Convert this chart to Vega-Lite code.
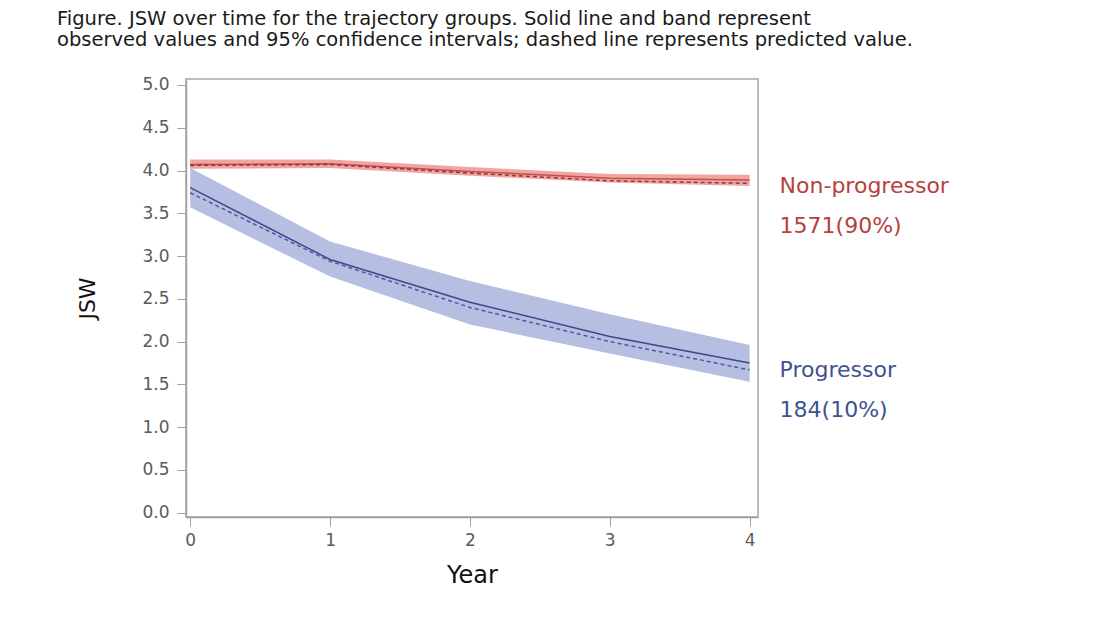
{
  "$schema": "https://vega.github.io/schema/vega-lite/v6.json",
  "autosize": "none",
  "width": 572,
  "height": 438,
  "padding": {"left": 186, "top": 79, "right": 336, "bottom": 106},
  "background": "white",
  "title": {
    "text": ["Figure. JSW over time for the trajectory groups. Solid line and band represent", "observed values and 95% confidence intervals; dashed line represents predicted value."],
    "anchor": "start",
    "frame": "group",
    "dx": -129,
    "offset": 25,
    "font": "DejaVu Sans",
    "fontSize": 19.5,
    "fontWeight": "normal",
    "color": "#1a1a1a",
    "lineHeight": 21
  },
  "datasets": {
    "traj": [
      {"group": "Non-progressor", "year": 0, "obs": 4.07, "lo": 4.02, "hi": 4.13, "pred": 4.06},
      {"group": "Non-progressor", "year": 1, "obs": 4.08, "lo": 4.03, "hi": 4.13, "pred": 4.07},
      {"group": "Non-progressor", "year": 2, "obs": 3.99, "lo": 3.94, "hi": 4.04, "pred": 3.97},
      {"group": "Non-progressor", "year": 3, "obs": 3.91, "lo": 3.86, "hi": 3.96, "pred": 3.88},
      {"group": "Non-progressor", "year": 4, "obs": 3.89, "lo": 3.82, "hi": 3.95, "pred": 3.85},
      {"group": "Progressor", "year": 0, "obs": 3.80, "lo": 3.57, "hi": 4.03, "pred": 3.74},
      {"group": "Progressor", "year": 1, "obs": 2.96, "lo": 2.76, "hi": 3.17, "pred": 2.94},
      {"group": "Progressor", "year": 2, "obs": 2.46, "lo": 2.20, "hi": 2.71, "pred": 2.40},
      {"group": "Progressor", "year": 3, "obs": 2.06, "lo": 1.86, "hi": 2.32, "pred": 2.00},
      {"group": "Progressor", "year": 4, "obs": 1.75, "lo": 1.53, "hi": 1.96, "pred": 1.67}
    ],
    "labels": [
      {"group": "Non-progressor", "label": "Non-progressor", "year": 4, "jsw": 3.82},
      {"group": "Non-progressor", "label": "1571(90%)", "year": 4, "jsw": 3.35},
      {"group": "Progressor", "label": "Progressor", "year": 4, "jsw": 1.67},
      {"group": "Progressor", "label": "184(10%)", "year": 4, "jsw": 1.20}
    ]
  },
  "config": {
    "view": {"stroke": "#a8a8a8", "strokeWidth": 1.5},
    "axis": {
      "grid": false,
      "domainColor": "#a0a0a0",
      "domainWidth": 1.5,
      "tickColor": "#a0a0a0",
      "tickSize": 9,
      "labelFont": "DejaVu Sans",
      "labelFontSize": 17,
      "labelColor": "#5a5a5a",
      "titleFont": "DejaVu Sans",
      "titleFontWeight": "normal",
      "titleColor": "#111111"
    }
  },
  "encoding": {
    "x": {
      "field": "year",
      "type": "quantitative",
      "scale": {"domain": [-0.03, 4.06], "nice": false, "zero": false},
      "axis": {"values": [0, 1, 2, 3, 4], "title": "Year", "titleFontSize": 24, "titlePadding": 15, "labelPadding": 6}
    }
  },
  "layer": [
    {
      "data": {"name": "traj"},
      "mark": {"type": "area", "opacity": 1},
      "encoding": {
        "y": {
          "field": "lo",
          "type": "quantitative",
          "scale": {"domain": [-0.05, 5.07], "nice": false, "zero": false},
          "axis": {"values": [0, 0.5, 1, 1.5, 2, 2.5, 3, 3.5, 4, 4.5, 5], "format": ".1f", "title": "JSW", "titleFontSize": 22, "titlePadding": 42, "labelPadding": 8}
        },
        "y2": {"field": "hi"},
        "color": {
          "field": "group",
          "type": "nominal",
          "scale": {"domain": ["Non-progressor", "Progressor"], "range": ["#f1a4a1", "#b6bee2"]},
          "legend": null
        }
      }
    },
    {
      "data": {"name": "traj"},
      "mark": {"type": "line", "strokeWidth": 1.5},
      "encoding": {
        "y": {"field": "obs", "type": "quantitative"},
        "color": {
          "field": "group",
          "type": "nominal",
          "scale": {"domain": ["Non-progressor", "Progressor"], "range": ["#c0504d", "#3c4a88"]},
          "legend": null
        }
      }
    },
    {
      "data": {"name": "traj"},
      "mark": {"type": "line", "strokeWidth": 1.5, "strokeDash": [4, 3]},
      "encoding": {
        "y": {"field": "pred", "type": "quantitative"},
        "color": {
          "field": "group",
          "type": "nominal",
          "scale": {"domain": ["Non-progressor", "Progressor"], "range": ["#8a3a3a", "#4a5c9e"]},
          "legend": null
        }
      }
    },
    {
      "data": {"name": "labels"},
      "mark": {"type": "text", "align": "left", "baseline": "middle", "dx": 30, "font": "DejaVu Sans", "fontSize": 22},
      "encoding": {
        "y": {"field": "jsw", "type": "quantitative"},
        "text": {"field": "label"},
        "color": {
          "field": "group",
          "type": "nominal",
          "scale": {"domain": ["Non-progressor", "Progressor"], "range": ["#b5423e", "#3e5290"]},
          "legend": null
        }
      }
    }
  ],
  "resolve": {"scale": {"color": "independent"}}
}
